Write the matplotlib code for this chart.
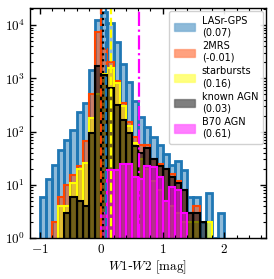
import numpy as np
import matplotlib
matplotlib.use("Agg")
import matplotlib.pyplot as plt
from matplotlib.ticker import FixedLocator, FuncFormatter, AutoMinorLocator, LogLocator, NullFormatter

plt.rcParams['mathtext.fontset'] = 'cm'

# bin edges of the W1-W2 histograms
edges = np.round(np.arange(-1.0, 2.01, 0.1), 2)

# counts per bin
lasr_gps = [6, 13, 24, 46, 69, 106, 234, 338, 1420, 12400, 17500, 11000, 4900, 1900,
            850, 370, 190, 120, 78, 55, 38, 24, 28, 19, 6, 6, 2, 7, 1, 3]
twomrs = [0, 0, 2, 6, 10, 15, 23, 68, 520, 7400, 3600, 2000, 900, 340,
          150, 78, 55, 55, 30, 25, 20, 16, 12, 8, 3, 4, 0, 0, 0, 0]
starbursts = [0, 0, 0, 4, 4, 11, 20, 26, 180, 500, 1200, 1550, 830, 300,
              128, 60, 30, 20, 12, 8, 5, 4, 3, 2, 2, 2, 0, 2, 0, 0]
known_agn = [0, 0, 0, 0, 3, 6, 5, 4, 96, 1700, 1150, 650, 315, 164,
             94, 53, 39, 50, 30, 23, 20, 14, 11, 8, 3, 3, 2, 0, 0, 0]
b70_agn = [0, 0, 0, 0, 0, 0, 0, 0, 0, 0, 3, 19, 19, 25,
           25, 14, 13, 23, 22, 14, 5, 9, 8, 3, 0, 0, 0, 0, 0, 0]

labels = ['LASr-GPS\n(0.07)', '2MRS\n(-0.01)', 'starbursts\n(0.16)',
          'known AGN\n(0.03)', 'B70 AGN\n(0.61)']
medians = [0.07, -0.01, 0.16, 0.03, 0.61]
colors = ['#1f77b4', 'orangered', 'yellow', 'black', 'magenta']
linestyles = ['--', '--', '--', ':', '-.']
widths = [2.0, 1.5, 1.5, 1.5, 1.5]

series = [lasr_gps, twomrs, starbursts, known_agn, b70_agn]

fig = plt.figure(figsize=(2.74, 2.79), dpi=100)
ax = fig.add_axes([0.109, 0.147, 0.862, 0.824])

centers = 0.5 * (edges[:-1] + edges[1:])
handles = []
for counts, col, lw, lab in zip(series, colors, widths, labels):
    c = np.array(counts, dtype=float)
    c[c == 0] = np.nan
    ax.bar(centers, c, width=0.1, color=col, alpha=0.5, linewidth=0)
    ax.bar(centers, c, width=0.1, fill=False, edgecolor=col, linewidth=lw)
    handles.append(plt.Rectangle((0, 0), 1, 1, facecolor=matplotlib.colors.to_rgba(col, 0.5),
                                 edgecolor=matplotlib.colors.to_rgba(col, 0.3), linewidth=1))

for m, col, ls in zip(medians, colors, linestyles):
    ax.axvline(m, color=col, ls=ls, lw=1.6)

ax.set_yscale('log')
ax.set_xlim(-1.16, 2.68)
ax.set_ylim(1, 2.1e4)

ax.xaxis.set_major_locator(FixedLocator([-1, 0, 1, 2]))
ax.xaxis.set_major_formatter(FuncFormatter(lambda v, p: r'$%d$' % v))
ax.xaxis.set_minor_locator(AutoMinorLocator())
ax.yaxis.set_major_locator(LogLocator(base=10, numticks=10))
ax.yaxis.set_major_formatter(FuncFormatter(lambda v, p: r'$10^{%d}$' % round(np.log10(v))))
ax.yaxis.set_minor_locator(LogLocator(base=10, subs=np.arange(2, 10), numticks=10))
ax.yaxis.set_minor_formatter(NullFormatter())
ax.tick_params(which='both', direction='in', top=True, right=True, labelsize=9.5)
ax.tick_params(which='major', length=4, width=1)
ax.tick_params(which='minor', length=2, width=0.8)
for s in ax.spines.values():
    s.set_linewidth(1)

ax.set_xlabel(r'$\mathit{W1}$-$\mathit{W2}$ $\mathrm{[mag]}$', fontsize=9.5, labelpad=2)

ax.legend(handles, labels, loc='upper right', fontsize=7.0, handlelength=2.2,
          handleheight=0.9, labelspacing=0.38, borderpad=0.5, handletextpad=0.7,
          borderaxespad=0.3, framealpha=0.9)

fig.savefig('out.png', dpi=100)
